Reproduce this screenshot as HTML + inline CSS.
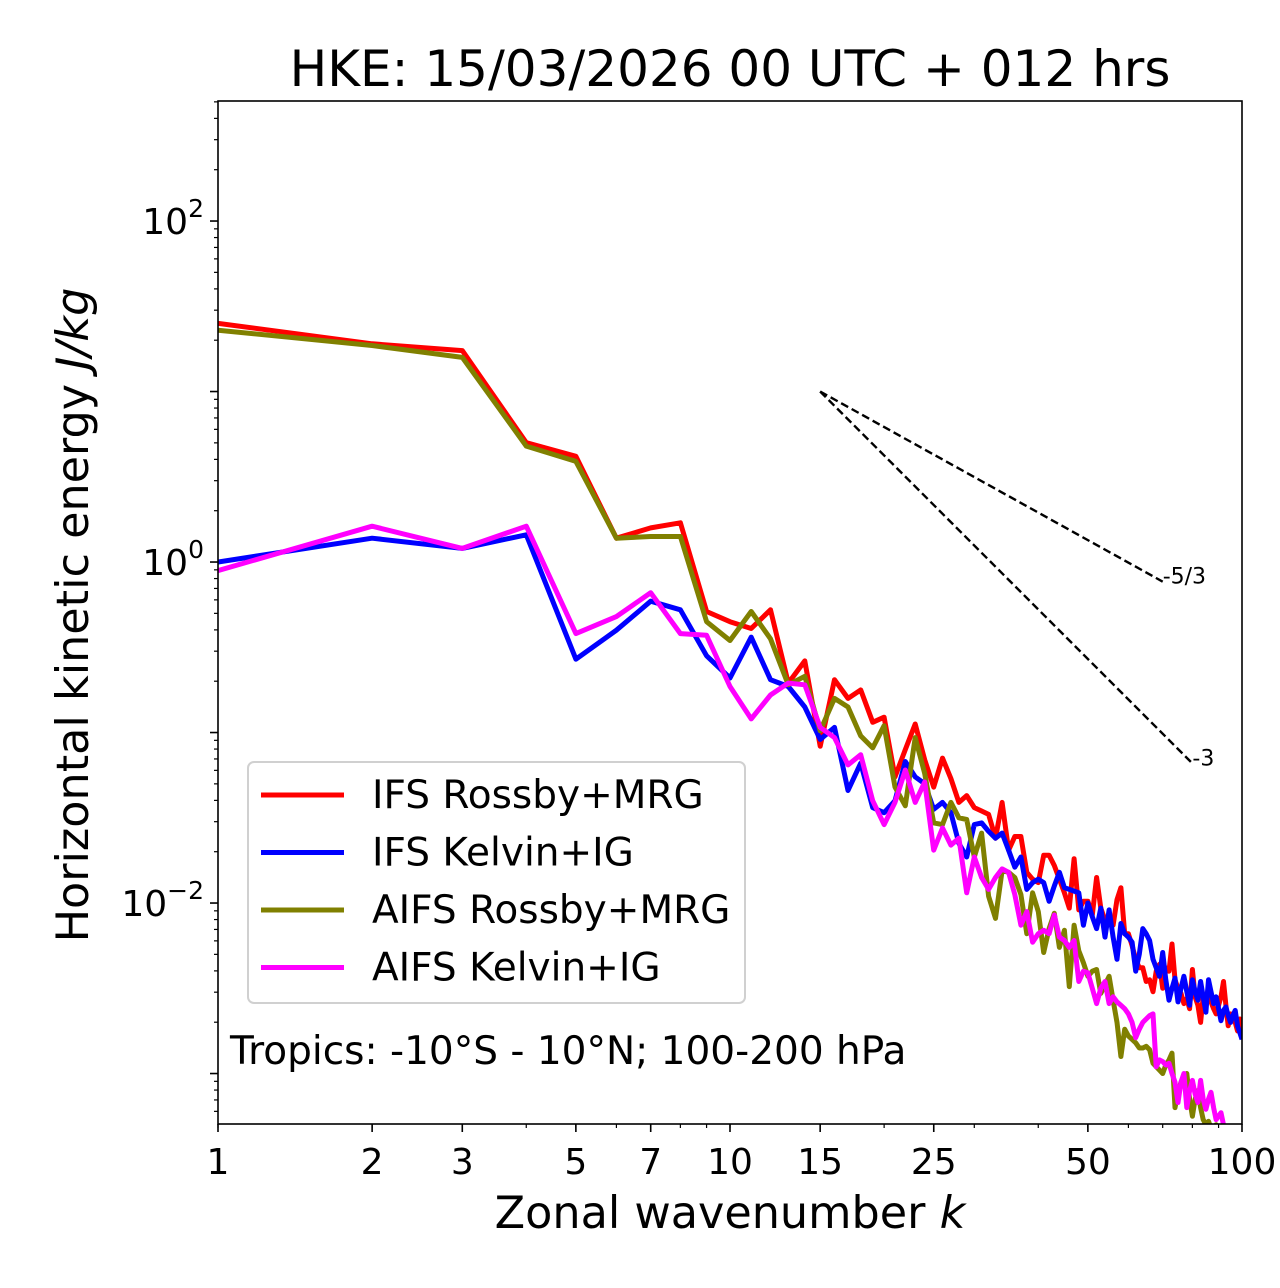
<!DOCTYPE html>
<html><head><meta charset="utf-8">
<style>
html,body{margin:0;padding:0;background:#fff;}
svg{display:block;font-family:"DejaVu Sans","Liberation Sans",sans-serif;}
</style></head>
<body>
<svg id="chart" width="1280" height="1288" viewBox="0 0 1280 1288" xmlns="http://www.w3.org/2000/svg">
<rect width="1280" height="1288" fill="#fff"/>
<text x="730" y="86" font-size="50" text-anchor="middle">HKE: 15/03/2026 00 UTC + 012 hrs</text>
<defs><clipPath id="plotclip"><rect x="218" y="101" width="1024" height="1023"/></clipPath></defs>
<g id="series" clip-path="url(#plotclip)"></g>
<g id="axes"></g>
<rect x="218" y="101" width="1024" height="1023" fill="none" stroke="#000" stroke-width="1.6"/>
<text x="730" y="1228" font-size="44.5" text-anchor="middle">Zonal wavenumber <tspan font-style="italic">k</tspan></text>
<text transform="translate(88,615) rotate(-90)" font-size="44.5" text-anchor="middle">Horizontal kinetic energy <tspan font-style="italic">J/kg</tspan></text>
<g id="legend"></g>
<text x="230" y="1064" font-size="39">Tropics: -10°S - 10°N; 100-200 hPa</text>
</svg>
<script>
// log10 of energy (J/kg), for k = 1..100
const ifsRossbyLog10 = [1.40,1.28,1.24,0.70,0.62,0.14,0.20,0.23,-0.29,-0.35,-0.39,-0.28,-0.71,-0.58,-1.08,-0.69,-0.80,-0.75,-0.94,-0.91,
-1.26,-1.10,-0.95,-1.16,-1.32,-1.15,-1.27,-1.41,-1.37,-1.44,-1.46,-1.48,-1.62,-1.41,-1.69,-1.61,-1.61,-1.82,-1.86,-1.88,
-1.72,-1.72,-1.78,-1.86,-1.94,-2.03,-1.74,-2.04,-1.99,-1.99,-2.07,-1.85,-2.03,-2.10,-2.10,-2.13,-1.98,-1.91,-2.18,-2.18,
-2.25,-2.33,-2.38,-2.38,-2.46,-2.45,-2.52,-2.40,-2.36,-2.50,-2.38,-2.40,-2.24,-2.45,-2.50,-2.53,-2.59,-2.56,-2.62,-2.39,
-2.55,-2.60,-2.70,-2.55,-2.58,-2.49,-2.58,-2.62,-2.65,-2.60,-2.55,-2.46,-2.60,-2.72,-2.65,-2.66,-2.70,-2.75,-2.68,-2.76];
const ifsKelvinLog10 = [0.00,0.14,0.08,0.16,-0.57,-0.40,-0.23,-0.28,-0.55,-0.68,-0.44,-0.69,-0.73,-0.85,-1.04,-0.97,-1.34,-1.18,-1.44,-1.47,
-1.40,-1.17,-1.26,-1.30,-1.45,-1.41,-1.47,-1.65,-1.73,-1.54,-1.53,-1.58,-1.62,-1.59,-1.69,-1.79,-1.73,-1.92,-1.88,-1.86,
-1.88,-1.99,-1.90,-1.82,-1.91,-1.92,-1.93,-1.94,-2.13,-2.00,-2.08,-2.15,-2.03,-2.20,-2.04,-2.20,-2.33,-2.12,-2.18,-2.20,
-2.23,-2.40,-2.30,-2.15,-2.18,-2.22,-2.33,-2.38,-2.43,-2.29,-2.45,-2.57,-2.50,-2.44,-2.58,-2.50,-2.43,-2.52,-2.60,-2.45,
-2.52,-2.57,-2.46,-2.55,-2.64,-2.45,-2.52,-2.59,-2.55,-2.62,-2.69,-2.63,-2.61,-2.66,-2.70,-2.66,-2.63,-2.72,-2.76,-2.80];
const aifsRossbyLog10 = [1.36,1.27,1.20,0.68,0.59,0.14,0.15,0.15,-0.35,-0.46,-0.29,-0.45,-0.72,-0.67,-0.99,-0.80,-0.85,-1.02,-1.09,-0.96,
-1.32,-1.43,-1.03,-1.24,-1.53,-1.54,-1.41,-1.50,-1.51,-1.73,-1.59,-1.96,-2.09,-1.81,-1.82,-1.85,-1.95,-2.18,-1.94,-2.05,
-2.29,-2.15,-2.06,-2.26,-2.16,-2.49,-2.13,-2.28,-2.35,-2.43,-2.40,-2.39,-2.53,-2.48,-2.43,-2.57,-2.70,-2.90,-2.74,-2.78,
-2.80,-2.82,-2.85,-2.85,-2.84,-2.86,-2.94,-2.96,-2.98,-3.00,-2.95,-2.92,-2.88,-3.20,-3.11,-3.05,-3.02,-3.00,-3.15,-3.25,
-3.15,-3.10,-3.20,-3.27,-3.30,-3.28,-3.32,-3.35,-3.30,-3.38,-3.40,-3.42,-3.38,-3.45,-3.45,-3.48,-3.45,-3.50,-3.52,-3.55];
const aifsKelvinLog10 = [-0.05,0.21,0.08,0.21,-0.42,-0.32,-0.18,-0.42,-0.43,-0.73,-0.92,-0.78,-0.71,-0.72,-0.97,-1.03,-1.19,-1.13,-1.40,-1.54,
-1.41,-1.22,-1.41,-1.29,-1.69,-1.56,-1.66,-1.62,-1.94,-1.73,-1.85,-1.92,-1.85,-1.80,-1.82,-1.95,-2.13,-2.05,-2.23,-2.18,
-2.16,-2.18,-2.07,-2.20,-2.22,-2.26,-2.22,-2.46,-2.40,-2.41,-2.50,-2.59,-2.50,-2.46,-2.59,-2.55,-2.58,-2.60,-2.62,-2.65,
-2.70,-2.79,-2.74,-2.70,-2.68,-2.66,-2.65,-2.96,-2.92,-2.93,-2.95,-2.94,-3.00,-3.05,-3.17,-3.05,-3.00,-3.20,-3.10,-3.04,
-3.12,-3.17,-3.04,-3.15,-3.21,-3.15,-3.11,-3.20,-3.27,-3.25,-3.23,-3.30,-3.35,-3.33,-3.38,-3.40,-3.42,-3.45,-3.47,-3.50];
const seriesNames = ["IFS Rossby+MRG","IFS Kelvin+IG","AIFS Rossby+MRG","AIFS Kelvin+IG"];
const seriesColors = ["#ff0000","#0000ff","#808000","#ff00ff"];
const xTickValues = [1,2,3,5,7,10,15,25,50,100];
const yTickExponents = [-2,0,2];
const slopeRefs = [{label:"-5/3",slope:-5/3,k0:15,e0:10,k1:70},{label:"-3",slope:-3,k0:15,e0:10,k1:80}];

const X0=218,X1=1242,Y0=101,Y1=1124;
const xMinLog=0,xMaxLog=2;
const yTopLog=2.704,yBotLog=-3.296;
function xScale(k){return X0+(Math.log10(k)-xMinLog)/(xMaxLog-xMinLog)*(X1-X0);}
function yScale(v){return Y0+(yTopLog-Math.log10(v))/(yTopLog-yBotLog)*(Y1-Y0);}
const NS="http://www.w3.org/2000/svg";
function mk(tag,attrs,parent){const e=document.createElementNS(NS,tag);for(const a in attrs)e.setAttribute(a,attrs[a]);parent.appendChild(e);return e;}

const gS=document.getElementById('series');
const gA=document.getElementById('axes');
const allSeries=[ifsRossbyLog10,ifsKelvinLog10,aifsRossbyLog10,aifsKelvinLog10];
const seriesKeys=["ifs-rossby-mrg-line","ifs-kelvin-ig-line","aifs-rossby-mrg-line","aifs-kelvin-ig-line"];
allSeries.forEach((arr,i)=>{
  const pts=arr.map((lv,j)=>xScale(j+1).toFixed(1)+","+yScale(Math.pow(10,lv)).toFixed(1)).join(" ");
  const pl=mk('polyline',{points:pts,fill:'none',stroke:seriesColors[i],'stroke-width':5,'stroke-linejoin':'round'},gS);
  
  
});
slopeRefs.forEach((r,i)=>{
  const v1=r.e0*Math.pow(r.k1/r.k0,r.slope);
  const ln=mk('line',{x1:xScale(r.k0),y1:yScale(r.e0),x2:xScale(r.k1),y2:yScale(v1),stroke:'#000','stroke-width':2.4,'stroke-dasharray':'8,4'},gS);
  
  
  const t=mk('text',{x:xScale(r.k1),y:yScale(v1)+2,'font-size':22},gA);
  t.textContent=r.label;
  
  
});
// x ticks
for(let d=0;d<2;d++){for(let m=1;m<10;m++){const k=m*Math.pow(10,d);
  mk('line',{x1:xScale(k),x2:xScale(k),y1:Y1,y2:Y1+4,stroke:'#000','stroke-width':1.2},gA);}}
xTickValues.forEach(k=>{
  mk('line',{x1:xScale(k),x2:xScale(k),y1:Y1,y2:Y1+8,stroke:'#000','stroke-width':1.6},gA);
  const t=mk('text',{x:xScale(k),y:Y1+50,'font-size':36,'text-anchor':'middle'},gA);
  t.textContent=k;
  
  
});
// y ticks
for(let d=-4;d<3;d++){for(let m=2;m<10;m++){const v=m*Math.pow(10,d);const y=yScale(v);
  if(y<Y0||y>Y1)continue;mk('line',{x1:X0-4,x2:X0,y1:y,y2:y,stroke:'#000','stroke-width':1.2},gA);}}
for(let d=-3;d<=2;d++){const y=yScale(Math.pow(10,d));mk('line',{x1:X0-8,x2:X0,y1:y,y2:y,stroke:'#000','stroke-width':1.6},gA);}
yTickExponents.forEach(e=>{
  const y=yScale(Math.pow(10,e));
  const t=mk('text',{x:X0-14,y:y+13,'font-size':36,'text-anchor':'end'},gA);
  t.innerHTML='10<tspan font-size="25" dy="-17">'+(e<0?'\u2212'+(-e):e)+'</tspan>';
  
  
});
// legend
const gL=document.getElementById('legend');
mk('rect',{x:248,y:762,width:497,height:241,rx:6,fill:'#fff','fill-opacity':0.85,stroke:'#d0d0d0','stroke-width':2},gL);
seriesNames.forEach((n,i)=>{
  const y=795+i*57.5;
  const l=mk('line',{x1:261,x2:344,y1:y,y2:y,stroke:seriesColors[i],'stroke-width':5},gL);
  
  
  const t=mk('text',{x:372,y:y+13,'font-size':39},gL);
  t.textContent=n;
  
  
});
</script>
</body></html>
